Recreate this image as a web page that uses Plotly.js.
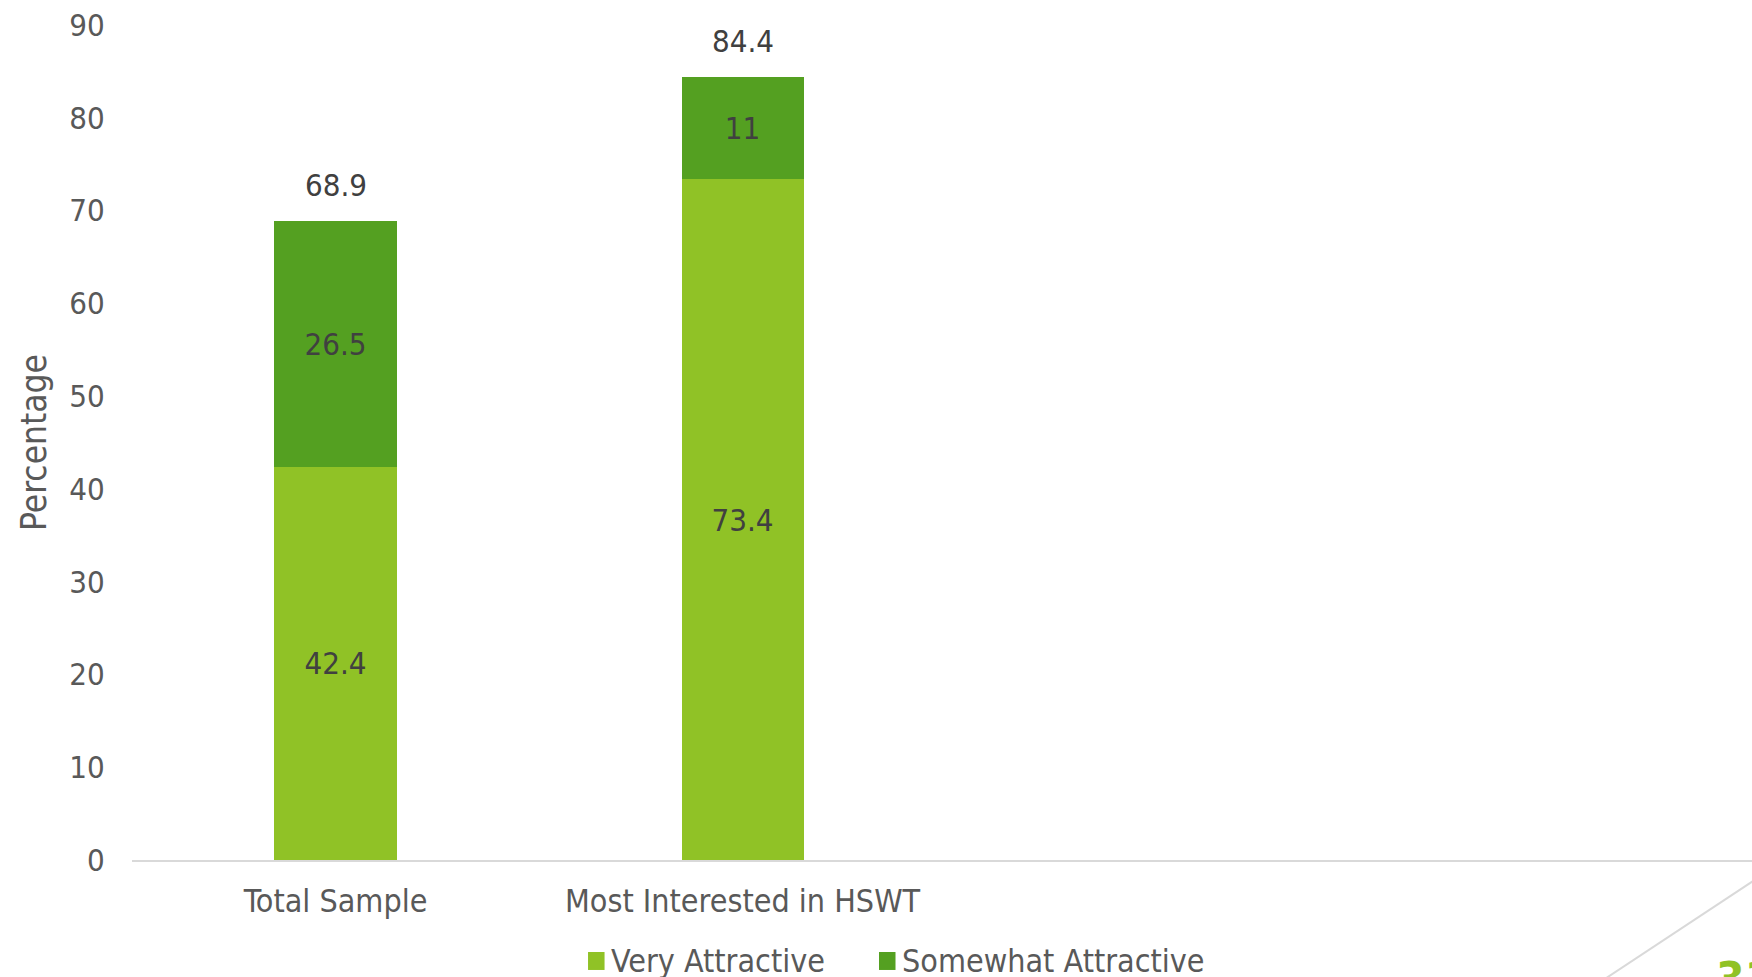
<!DOCTYPE html>
<html>
<head>
<meta charset="utf-8">
<script src="https://cdn.plot.ly/plotly-3.0.1.min.js"></script>
<style>
  html, body { margin: 0; padding: 0; background: #ffffff; }
  #chart { width: 1752px; height: 977px; }
</style>
</head>
<body>
<div id="chart"></div>
<script>
// Share of respondents rating the concept attractive, by group
const categories = ["Total Sample", "Most Interested in HSWT"];
const veryAttractive = [42.4, 73.4];
const somewhatAttractive = [26.5, 11];
const seriesNames = ["Very Attractive", "Somewhat Attractive"];
const yTicks = [0, 10, 20, 30, 40, 50, 60, 70, 80, 90];

const FONT = "'DejaVu Sans Condensed', 'DejaVu Sans', sans-serif";
const LIGHT = "#90C226";
const DARK = "#54A021";
const slots = categories.map((_, i) => i);
const totals = veryAttractive.map((v, i) => +(v + somewhatAttractive[i]).toFixed(1));

const common = {
  type: "bar",
  x: slots,
  width: 0.3,
  textposition: "inside",
  insidetextanchor: "middle",
  textangle: 0,
  insidetextfont: { family: FONT, size: 31, color: "#404040" },
  hoverinfo: "skip",
  showlegend: false
};

const traces = [
  Object.assign({}, common, {
    name: seriesNames[0],
    y: veryAttractive,
    text: veryAttractive.map(String),
    marker: { color: LIGHT }
  }),
  Object.assign({}, common, {
    name: seriesNames[1],
    y: somewhatAttractive,
    text: somewhatAttractive.map(String),
    marker: { color: DARK }
  })
];

// Stack totals written above each bar
const totalLabels = slots.map((s, i) => ({
  x: s, y: totals[i], xref: "x", yref: "y",
  text: String(totals[i]), showarrow: false,
  yanchor: "bottom", yshift: 16,
  font: { family: FONT, size: 31, color: "#404040" }
}));

// Legend row under the axis: a colour square followed by the series name
const legendColors = [LIGHT, DARK];
const legendX = [0.2815, 0.4611];      // left edge of each swatch (paper units)
const swatchW = 0.0102;
const legendShapes = seriesNames.map((n, i) => ({
  type: "rect", xref: "paper", yref: "paper",
  x0: legendX[i], x1: legendX[i] + swatchW, y0: -0.1317, y1: -0.1102,
  fillcolor: legendColors[i], line: { width: 0 }
}));
const legendTexts = seriesNames.map((n, i) => ({
  xref: "paper", yref: "paper",
  x: legendX[i] + swatchW + 0.003, y: -0.1212,
  xanchor: "left", yanchor: "middle",
  text: n, showarrow: false,
  font: { family: FONT, size: 32, color: "#595959" }
}));

const layout = {
  width: 1752,
  height: 977,
  margin: { l: 132, r: 0, t: 25, b: 117, pad: 0, autoexpand: false },
  paper_bgcolor: "#ffffff",
  plot_bgcolor: "#ffffff",
  barmode: "stack",
  showlegend: false,
  font: { family: FONT, color: "#595959" },
  xaxis: {
    range: [-0.5, 3.48],
    tickvals: slots,
    ticktext: categories,
    showgrid: false,
    zeroline: false,
    showline: true,
    linecolor: "#D9D9D9",
    linewidth: 2,
    ticks: "outside",
    ticklen: 12,
    tickcolor: "rgba(0,0,0,0)",
    tickfont: { family: FONT, size: 32, color: "#595959" },
    automargin: false,
    fixedrange: true
  },
  yaxis: {
    range: [0, 90],
    tickvals: yTicks,
    showgrid: false,
    zeroline: false,
    showline: false,
    ticks: "outside",
    ticklen: 20,
    tickcolor: "rgba(0,0,0,0)",
    tickfont: { family: FONT, size: 31, color: "#595959" },
    title: { text: "Percentage", font: { family: FONT, size: 35, color: "#595959" }, standoff: 12 },
    automargin: false,
    fixedrange: true
  },
  shapes: [
    {
      type: "line", xref: "paper", yref: "paper",
      x0: 0.8877, y0: -0.170, x1: 1.0296, y1: 0.012,
      line: { color: "#D9D9D9", width: 2 }
    }
  ].concat(legendShapes),
  annotations: totalLabels.concat(legendTexts, [
    {
      xref: "paper", yref: "paper",
      x: 0.9765, y: -0.1078, xanchor: "left", yanchor: "top",
      text: "<b>31</b>", showarrow: false,
      font: { family: FONT, size: 46, color: LIGHT }
    }
  ])
};

Plotly.newPlot("chart", traces, layout, { displayModeBar: false, staticPlot: true });
</script>
</body>
</html>
